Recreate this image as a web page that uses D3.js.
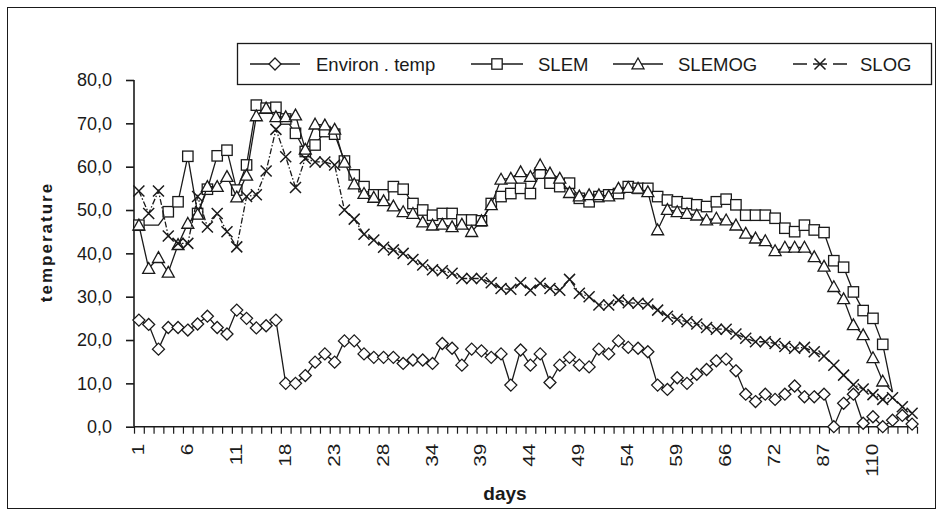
<!DOCTYPE html>
<html><head><meta charset="utf-8">
<script src="https://cdn.jsdelivr.net/npm/d3@7"></script>
<style>body{margin:0;background:#fff}text{font-family:"Liberation Sans",Arial,sans-serif}</style>
</head><body><svg id="c" width="943" height="516"></svg>
<script>
// ---- data ----
const categories = d3.range(80); // sampling occasions (day labels shown every 5th)
const tickLabels = ["1","6","11","18","23","28","34","39","44","49","54","59","66","72","87","110"];
const tickEvery = 5;
const yTicks = [0,10,20,30,40,50,60,70,80];

const envTemp = [24.6,23.6,17.9,22.9,22.9,22.3,23.7,25.5,22.9,21.4,26.9,25.0,22.8,23.3,24.6,10.0,10.0,11.8,14.9,16.8,
  14.9,19.8,19.8,16.8,16.0,16.0,16.0,14.6,15.4,15.4,14.6,19.2,18.1,14.2,17.9,17.5,16.0,16.8,9.6,17.7,
  14.2,16.8,10.2,14.2,16.0,14.2,13.8,17.9,16.8,19.8,18.3,18.1,17.3,9.6,8.6,11.3,10.0,12.1,13.2,15.2,
  15.6,12.9,7.5,5.8,7.5,6.3,7.5,9.4,6.9,6.9,7.5,0.0,5.4,7.5,0.8,2.3,0.0,1.5,2.6,0.6];
const slem = [46.5,46.5,46.5,49.6,51.9,62.4,49.2,54.8,62.5,63.8,54.6,60.4,74.2,73.5,73.7,71.0,67.7,63.5,65.0,68.1,
  67.5,61.3,58.1,55.4,53.5,53.5,55.4,54.8,51.5,50.0,48.8,49.2,49.2,47.7,47.7,47.5,51.5,53.1,53.8,55.0,
  53.8,58.5,56.2,55.4,56.2,52.7,51.9,53.1,53.5,53.8,55.4,55.0,55.0,53.1,52.3,51.9,51.5,51.2,50.8,51.9,
  52.5,51.2,48.8,48.8,48.8,48.1,45.8,45.0,46.5,45.4,44.8,38.3,36.8,31.1,26.8,25.0,19.0,8.0,null,null];
const slemog = [46.5,36.5,39.0,35.6,42.0,46.9,49.0,55.4,55.4,57.7,53.0,58.0,71.7,73.5,71.5,71.5,71.9,64.0,69.8,69.6,
  68.6,61.0,56.0,53.8,52.9,52.1,50.9,49.6,49.2,47.2,46.5,46.7,46.1,46.7,45.0,47.5,51.2,57.1,57.3,58.8,
  57.7,60.4,58.5,57.3,54.0,53.2,53.5,53.5,53.2,55.0,55.2,55.0,54.2,45.4,50.1,49.6,49.2,48.8,47.7,48.1,
  47.7,46.5,44.6,43.5,42.9,40.6,41.4,41.4,41.4,39.2,37.0,32.3,29.5,23.5,21.2,15.9,10.5,8.0,null,null];
const slog = [54.4,49.2,54.4,44.0,42.3,42.3,53.1,46.1,49.2,45.0,41.5,53.1,53.5,59.0,68.6,62.3,55.2,61.9,61.1,61.1,
  60.4,50.0,47.9,44.4,43.1,41.4,40.8,40.0,38.6,37.3,36.2,36.0,35.4,34.2,34.2,34.2,33.2,31.9,31.7,33.2,
  31.5,33.1,31.9,31.5,34.0,30.8,30.0,28.1,28.1,29.2,28.6,28.5,28.3,26.9,25.5,24.8,24.2,23.7,22.9,22.5,
  22.5,21.4,20.4,19.6,19.6,19.2,18.5,18.1,18.3,17.3,16.3,14.2,11.9,9.7,8.7,7.4,6.3,6.7,4.6,3.1];
// points whose marker is not visible in the source figure (line only)
const slemHidden = [1,2,77];
const slemogHidden = [77];

const series = [
  {name:"Environ . temp", values: envTemp, marker:"diamond", dash:null, hidden:[]},
  {name:"SLEM", values: slem, marker:"square", dash:null, hidden:slemHidden},
  {name:"SLEMOG", values: slemog, marker:"triangle", dash:null, hidden:slemogHidden},
  {name:"SLOG", values: slog, marker:"cross", dash:"6,2,1.5,2", hidden:[]}
];

// ---- layout ----
const svg = d3.select("#c");
const ink = "#1a1a1a";
const L = 134, R = 917, T = 80, B = 426.7;

svg.append("rect").attr("x",7.5).attr("y",7.5).attr("width",928).attr("height",501)
  .attr("fill","none").attr("stroke",ink).attr("stroke-width",1);

const xEdge = d3.scaleLinear().domain([0, categories.length]).range([L, R]);
const xc = i => xEdge(i + 0.5);
const y = d3.scaleLinear().domain([0, 80]).range([B, T]);

// y axis
const yAxis = svg.append("g").attr("transform",`translate(${L},0)`)
  .call(d3.axisLeft(y).tickValues(yTicks).tickSize(8).tickPadding(14)
    .tickFormat(d => d3.format(".1f")(d).replace(".", ",")));
yAxis.select(".domain").attr("stroke",ink).attr("stroke-width",1.6).attr("d",`M0,${B}V${T}`);
yAxis.selectAll(".tick line").attr("stroke",ink).attr("stroke-width",1.6);
yAxis.selectAll(".tick text").attr("fill",ink).style("font-size","18px").style("font-family","'Liberation Sans',Arial,sans-serif");

// x axis (ticks at category boundaries)
const xAxis = svg.append("g").attr("transform",`translate(0,${B})`)
  .call(d3.axisBottom(xEdge).tickValues(d3.range(categories.length + 1)).tickSize(7).tickFormat(""));
xAxis.select(".domain").attr("stroke",ink).attr("stroke-width",1.6).attr("d",`M${L},0H${R}`);
xAxis.selectAll(".tick line").attr("stroke",ink).attr("stroke-width",1.2);

// rotated category labels
svg.append("g").selectAll("text").data(tickLabels).join("text")
  .attr("transform",(d,k)=>`translate(${xc(k*tickEvery)+5},${B+17}) rotate(-90) scale(1.3,1)`)
  .attr("text-anchor","end").attr("fill",ink)
  .style("font-size","16px").text(d=>d);

// axis titles
svg.append("text").attr("x",505).attr("y",500).attr("text-anchor","middle")
  .attr("fill",ink).style("font-size","19px").style("font-weight","bold").text("days");
svg.append("text").attr("transform","translate(52,242) rotate(-90)").attr("text-anchor","middle")
  .attr("fill",ink).style("font-size","17px").style("font-weight","bold").style("letter-spacing","2px").text("temperature");

// markers
function drawMarker(g, type, cx, cy) {
  if (type === "diamond") {
    const r = 6;
    g.append("path").attr("d",`M${cx},${cy-r}L${cx+r},${cy}L${cx},${cy+r}L${cx-r},${cy}Z`)
      .attr("fill","#fff").attr("stroke",ink).attr("stroke-width",1.3);
  } else if (type === "square") {
    const s = 5.2;
    g.append("rect").attr("x",cx-s).attr("y",cy-s).attr("width",2*s).attr("height",2*s)
      .attr("fill","#fff").attr("stroke",ink).attr("stroke-width",1.3);
  } else if (type === "triangle") {
    const s = 6;
    g.append("path").attr("d",`M${cx},${cy-s}L${cx+s},${cy+s*0.8}L${cx-s},${cy+s*0.8}Z`)
      .attr("fill","#fff").attr("stroke",ink).attr("stroke-width",1.3);
  } else if (type === "cross") {
    const s = 5.5;
    g.append("path").attr("d",`M${cx-s},${cy-s}L${cx+s},${cy+s}M${cx+s},${cy-s}L${cx-s},${cy+s}`)
      .attr("fill","none").attr("stroke",ink).attr("stroke-width",1.5);
  }
}

const line = d3.line().defined(d => d != null).x((d,i)=>xc(i)).y(d=>y(d));
series.forEach(s => {
  const g = svg.append("g");
  g.append("path").attr("d", line(s.values)).attr("fill","none").attr("stroke",ink)
    .attr("stroke-width",1.3).attr("stroke-dasharray", s.dash);
  s.values.forEach((v,i) => {
    if (v != null && !s.hidden.includes(i)) drawMarker(g, s.marker, xc(i), y(v));
  });
});

// legend
const lg = svg.append("g");
lg.append("rect").attr("x",237.5).attr("y",43.5).attr("width",694).attr("height",41)
  .attr("fill","#fff").attr("stroke",ink).attr("stroke-width",1.3);
const legendPos = [
  {x1:250, x2:300, tx:316},
  {x1:471, x2:523, tx:538},
  {x1:613, x2:663, tx:678},
  {x1:793, x2:847, tx:860}
];
series.forEach((s,k) => {
  const p = legendPos[k], ly = 64;
  lg.append("line").attr("x1",p.x1).attr("x2",p.x2).attr("y1",ly).attr("y2",ly)
    .attr("stroke",ink).attr("stroke-width",1.3).attr("stroke-dasharray", s.dash ? "14,6" : null);
  drawMarker(lg, s.marker, (p.x1+p.x2)/2, ly);
  lg.append("text").attr("x",p.tx).attr("y",ly+6.5).attr("fill",ink)
    .style("font-size","18.5px").text(s.name);
});
</script></body></html>
